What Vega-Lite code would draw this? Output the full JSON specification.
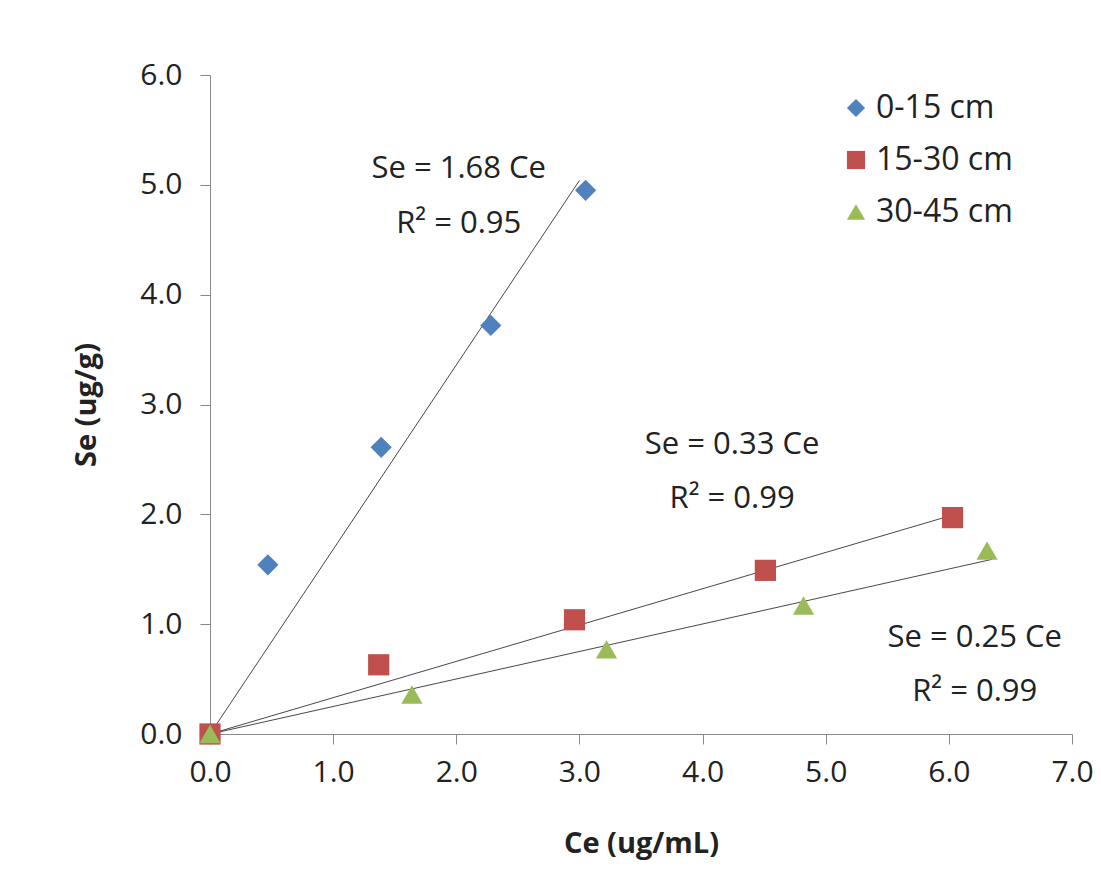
{
  "$schema": "https://vega.github.io/schema/vega-lite/v6.json",
  "width": 862,
  "height": 659,
  "autosize": "none",
  "padding": {"left": 210, "top": 75, "right": 29, "bottom": 142},
  "background": "white",
  "datasets": {
    "pts": [
      {"ce": 0.0, "se": 0.0, "depth": "0-15 cm"},
      {"ce": 0.47, "se": 1.54, "depth": "0-15 cm"},
      {"ce": 1.39, "se": 2.61, "depth": "0-15 cm"},
      {"ce": 2.28, "se": 3.72, "depth": "0-15 cm"},
      {"ce": 3.05, "se": 4.95, "depth": "0-15 cm"},
      {"ce": 0.0, "se": 0.0, "depth": "15-30 cm"},
      {"ce": 1.37, "se": 0.63, "depth": "15-30 cm"},
      {"ce": 2.96, "se": 1.04, "depth": "15-30 cm"},
      {"ce": 4.51, "se": 1.49, "depth": "15-30 cm"},
      {"ce": 6.03, "se": 1.97, "depth": "15-30 cm"},
      {"ce": 0.0, "se": 0.0, "depth": "30-45 cm"},
      {"ce": 1.64, "se": 0.36, "depth": "30-45 cm"},
      {"ce": 3.22, "se": 0.77, "depth": "30-45 cm"},
      {"ce": 4.82, "se": 1.17, "depth": "30-45 cm"},
      {"ce": 6.31, "se": 1.67, "depth": "30-45 cm"}
    ],
    "fits": [
      {"ce": 0, "se": 0, "fit": "a"},
      {"ce": 3.0, "se": 5.04, "fit": "a"},
      {"ce": 0, "se": 0, "fit": "b"},
      {"ce": 6.05, "se": 2.0, "fit": "b"},
      {"ce": 0, "se": 0, "fit": "c"},
      {"ce": 6.35, "se": 1.59, "fit": "c"}
    ],
    "labels": [
      {"ce": 2.02, "se": 5.14, "t": "Se = 1.68 Ce"},
      {"ce": 2.02, "se": 4.64, "t": "R² = 0.95"},
      {"ce": 4.24, "se": 2.63, "t": "Se = 0.33 Ce"},
      {"ce": 4.24, "se": 2.14, "t": "R² = 0.99"},
      {"ce": 6.21, "se": 0.87, "t": "Se = 0.25 Ce"},
      {"ce": 6.21, "se": 0.38, "t": "R² = 0.99"}
    ]
  },
  "encoding": {
    "x": {"field": "ce", "type": "quantitative", "scale": {"domain": [0, 7]},
      "axis": {"title": "Ce (ug/mL)", "format": ".1f", "tickCount": 7, "grid": false, "titlePadding": 42, "labelFlush": false, "labelPadding": 13}},
    "y": {"field": "se", "type": "quantitative", "scale": {"domain": [0, 6]},
      "axis": {"title": "Se (ug/g)", "format": ".1f", "tickCount": 6, "grid": false, "titlePadding": 38, "labelFlush": false, "labelPadding": 18}}
  },
  "layer": [
    {
      "data": {"name": "fits"},
      "mark": {"type": "line", "color": "#333333", "strokeWidth": 0.9},
      "encoding": {"detail": {"field": "fit"}}
    },
    {
      "data": {"name": "pts"},
      "mark": {"type": "point", "filled": true, "size": 450, "opacity": 1},
      "encoding": {
        "color": {"field": "depth", "type": "nominal",
          "scale": {"domain": ["0-15 cm", "15-30 cm", "30-45 cm"], "range": ["#4F81BD", "#C0504D", "#9BBB59"]},
          "legend": {"title": null, "orient": "none", "legendX": 630, "legendY": 17, "labelFontSize": 32, "symbolSize": 330, "rowPadding": 20, "labelFont": "Open Sans", "labelColor": "#222"}},
        "shape": {"field": "depth", "type": "nominal",
          "scale": {"domain": ["0-15 cm", "15-30 cm", "30-45 cm"], "range": ["diamond", "square", "triangle-up"]},
          "legend": {"title": null, "orient": "none", "legendX": 630, "legendY": 17, "labelFontSize": 32, "symbolSize": 330, "rowPadding": 20, "labelFont": "Open Sans", "labelColor": "#222"}}
      }
    },
    {
      "data": {"name": "labels"},
      "mark": {"type": "text", "fontSize": 31, "font": "Open Sans", "color": "#222", "clip": false},
      "encoding": {"text": {"field": "t"}}
    }
  ],
  "config": {
    "view": {"stroke": null},
    "axis": {"labelFont": "Open Sans", "labelFontSize": 30, "labelColor": "#222", "titleFont": "Open Sans", "titleFontSize": 29, "titleColor": "#222", "domainColor": "#888", "tickColor": "#888", "tickSize": 10}
  }
}
